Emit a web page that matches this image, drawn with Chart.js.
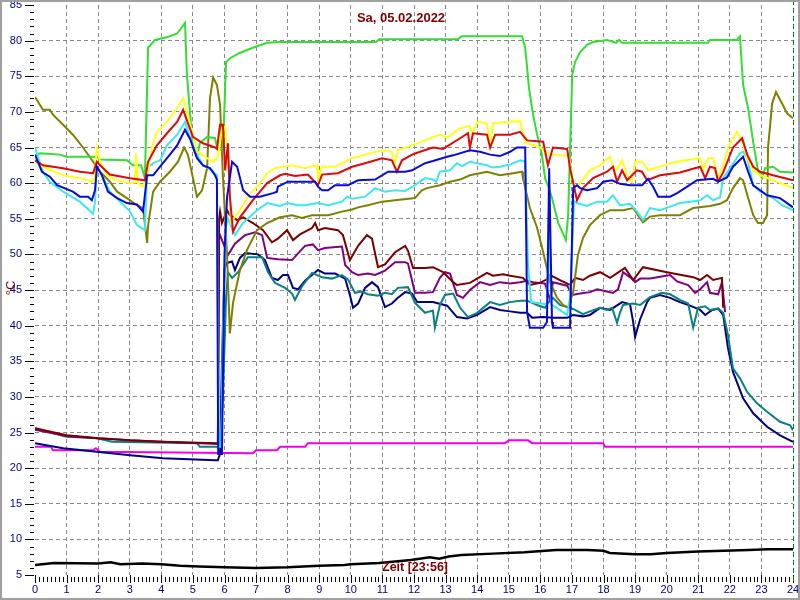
<!DOCTYPE html>
<html>
<head>
<meta charset="utf-8">
<script src="https://cdn.jsdelivr.net/npm/chart.js@4.4.0/dist/chart.umd.min.js"></script>
<style>
  html, body { margin: 0; padding: 0; background: #fff; }
</style>
</head>
<body>
<canvas id="chart" width="800" height="600"></canvas>
<script>
// Temperaturen vom Sa, 05.02.2022 - [Stunde, °C]
var titel = "Sa, 05.02.2022";
var zeitLabel = "Zeit [23:56]";
var einheit = "°C";
var yTicks = [5, 10, 15, 20, 25, 30, 35, 40, 45, 50, 55, 60, 65, 70, 75, 80, 85];
var xTicks = [0, 1, 2, 3, 4, 5, 6, 7, 8, 9, 10, 11, 12, 13, 14, 15, 16, 17, 18, 19, 20, 21, 22, 23, 24];

var gruen = [[0,63.8],[0.16,64.2],[0.79,64.0],[1.0,63.7],[1.96,63.7],[2.06,63.3],[2.91,63.2],[3.1,62.5],[3.36,62.5],[3.48,60.7],[3.58,79],[3.8,80.1],[4.2,80.5],[4.5,81],[4.75,82.5],[4.81,75.2],[5.0,65],[5.13,63.7],[5.22,65.6],[5.45,66.5],[5.7,66.3],[5.79,64.6],[5.95,64.8],[6.05,77],[6.2,77.6],[6.5,78.3],[6.9,79],[7.35,79.7],[7.76,79.8],[10.8,79.8],[10.9,80.2],[13.4,80.2],[13.5,80.6],[15.42,80.6],[15.52,79],[15.64,73.4],[15.77,69.6],[15.9,66.8],[16.05,64],[16.15,60.7],[16.24,59.7],[16.37,57.9],[16.56,54.5],[16.81,52],[16.88,55.5],[17.01,75.2],[17.1,77],[17.26,78.4],[17.48,79.4],[17.67,79.8],[18.11,80.1],[18.4,79.7],[18.49,80.1],[18.59,79.7],[21.31,79.7],[21.37,80.1],[22.23,80.1],[22.32,80.6],[22.42,73.8],[22.58,70.5],[22.74,65.8],[22.89,61.8],[23.02,60.7],[23.12,62.1],[23.37,62.3],[23.59,61.6],[24,61.5]];

var gelb = [[0,63.0],[0.25,62.3],[0.89,61.1],[1.42,60.7],[1.84,60.2],[1.9,61.5],[1.96,65],[2.06,63],[2.28,61.1],[2.6,60.4],[3.01,60],[3.17,60.1],[3.2,64.2],[3.26,60],[3.42,59.5],[3.55,61],[3.7,65],[3.86,67.2],[4.18,68.6],[4.5,70.5],[4.69,71.9],[4.81,70],[5.13,64.4],[5.45,63.5],[5.64,63],[5.79,63.7],[5.92,67.7],[6.02,67.9],[6.11,63.5],[6.2,54.5],[6.49,56.2],[6.81,58.6],[7.06,59.6],[7.35,61.4],[7.6,62.1],[8.14,62.5],[8.55,62.1],[8.93,62.5],[8.96,60.4],[9.09,62.3],[9.5,62.3],[10.04,63.5],[10.45,64],[10.99,64.6],[11.3,64.4],[11.4,62.8],[11.49,64.6],[11.94,65.3],[12.35,66],[12.82,66.8],[13.05,66.4],[13.46,67.7],[13.77,68],[13.84,66.8],[14.0,68.6],[14.31,68.4],[14.41,65.3],[14.5,68.4],[15.04,68.6],[15.36,68.7],[15.52,65.6],[15.67,65.5],[15.99,65],[16.31,64],[16.88,63.8],[17.01,61.1],[17.1,59.3],[17.26,60],[17.57,61.8],[17.89,62.5],[18.21,63.7],[18.37,61.6],[18.59,63.2],[18.75,61.1],[18.9,60.2],[19.0,63],[19.22,63],[19.41,61.8],[19.7,62.2],[20.11,62.8],[20.74,63.3],[21.06,63.5],[21.15,61.8],[21.31,63.5],[21.47,63.5],[21.63,60.7],[21.79,62.5],[21.94,65],[22.23,67.2],[22.39,66],[22.55,63.5],[22.74,61.8],[22.96,61.1],[23.37,60.4],[24,59.3]];

var rot = [[0,63.2],[0.25,62.5],[0.89,62.1],[1.42,61.6],[1.84,61.4],[1.96,63],[2.06,62.5],[2.37,61.2],[3.01,60.7],[3.48,60.4],[3.58,63],[3.86,65.3],[4.18,67],[4.5,68.6],[4.69,70.3],[4.81,68.8],[5.0,66.5],[5.32,65.6],[5.7,65],[5.76,64.8],[5.86,68.2],[5.95,68.2],[6.02,61.8],[6.11,65.6],[6.17,58.1],[6.27,53.2],[6.49,55.2],[6.9,57.6],[7.35,60],[7.76,61.1],[7.92,61.3],[8.23,61.0],[8.64,61.2],[8.96,59.7],[9.09,61.2],[9.59,61.4],[10.04,62.3],[10.45,62.8],[10.99,63.5],[11.3,63.2],[11.46,61.6],[11.62,63.2],[11.94,64],[12.19,64.4],[12.6,65],[12.92,64.8],[13.46,66.3],[13.71,67],[13.77,65],[13.87,67],[14.31,66.8],[14.41,65],[14.57,66.8],[15.04,66.8],[15.36,67.2],[15.58,66],[16.09,65.8],[16.24,62.5],[16.4,65],[16.85,64.8],[16.94,62.1],[17.16,57.6],[17.35,59.3],[17.67,60.7],[18.11,61.6],[18.3,62.3],[18.43,60.2],[18.59,61.8],[18.75,60.4],[19.06,61.8],[19.22,61.6],[19.38,60.4],[19.79,61.1],[20.42,61.5],[21.06,62.3],[21.22,60.7],[21.37,62.3],[21.53,62.1],[21.63,60.2],[21.79,61.5],[22.1,65],[22.39,66.3],[22.55,64],[22.74,62.3],[22.96,61.6],[23.37,61.1],[24,60.4]];

var hellblau = [[0,65],[0.25,61.6],[0.47,60.2],[0.89,58.8],[1.42,57.4],[1.84,55.7],[1.9,57.4],[1.96,62.3],[2.12,61.1],[2.37,58.8],[2.69,57.4],[3.01,56],[3.23,54.1],[3.48,53.4],[3.55,62.1],[3.74,62.8],[3.96,63.2],[4.18,65.3],[4.5,66.8],[4.75,68.6],[4.91,66.4],[5.13,64],[5.32,62.5],[5.6,61.8],[5.76,61.1],[5.82,23],[5.9,23],[5.95,40],[6.05,54],[6.11,55],[6.33,52.7],[6.59,54.4],[7.03,56.2],[7.35,57.2],[7.76,56.8],[8.0,57.2],[8.3,56.9],[8.55,56.9],[8.96,57.2],[9.28,56.9],[9.72,57.4],[9.88,58.1],[10.04,57.8],[10.45,58.1],[10.77,59.3],[11.08,58.8],[11.4,59],[11.72,58.9],[12.03,59.7],[12.35,60.7],[12.6,60.5],[12.7,60.2],[12.82,61.6],[13.14,61.8],[13.36,62.8],[13.52,62.4],[13.77,63],[14.31,62.5],[14.47,62.2],[14.72,62.3],[15.04,62.6],[15.36,63.2],[15.52,63],[15.61,48.5],[15.71,43.3],[16.21,43],[16.28,57],[16.34,43],[16.85,41.5],[16.94,44],[17.07,57.5],[17.16,57.2],[17.48,56.8],[17.8,57.4],[18.11,57.4],[18.3,58.3],[18.52,56.9],[18.84,57.1],[19.06,56],[19.25,54.8],[19.47,56.5],[19.79,56.2],[20.11,56.7],[20.42,57.2],[20.74,57.4],[21.06,57.6],[21.28,58.3],[21.47,57.6],[21.69,58.0],[21.79,60.7],[22.01,62.1],[22.32,64.2],[22.42,64.4],[22.55,63.5],[22.74,59.7],[22.96,58.8],[23.37,57.9],[23.65,56.9],[24,56.2]];

var blau = [[0,64],[0.22,61.6],[0.47,60.9],[0.7,59.7],[1.2,58.8],[1.42,58.1],[1.68,58.1],[1.8,57.6],[1.9,59],[1.96,62.3],[2.12,61.1],[2.31,58.8],[2.6,57.9],[2.91,57.2],[3.23,57],[3.42,56],[3.55,61.1],[3.74,61.1],[3.96,62.3],[4.27,64],[4.5,65.3],[4.75,67.5],[4.91,66.2],[5.13,63.5],[5.32,62.5],[5.54,62.1],[5.7,61.1],[5.76,60.5],[5.8,22],[5.92,22],[6.0,50],[6.08,58],[6.24,63],[6.4,62.3],[6.59,59],[6.81,58.1],[7.12,58.1],[7.54,58.6],[7.66,58.8],[7.69,59.5],[8.01,60.2],[8.55,60.2],[8.87,60.2],[8.96,59.5],[9.09,59],[9.28,59],[9.5,59.7],[9.91,59.7],[10.23,60.4],[10.77,60.5],[11.18,61.6],[11.72,61.6],[11.94,61.8],[12.35,62.8],[12.6,63.1],[13.05,63.7],[13.24,63.9],[13.77,64.6],[14.09,64.4],[14.41,64],[14.72,63.8],[15.04,64.4],[15.26,65],[15.52,65],[15.58,41.9],[15.67,39.7],[16.09,39.7],[16.21,40.5],[16.28,62.1],[16.37,40.5],[16.4,39.7],[16.94,39.7],[17.04,59.3],[17.16,59.7],[17.26,59.3],[17.48,59],[17.8,59.3],[17.99,60.2],[18.27,60.4],[18.52,59.9],[18.84,59.7],[19.22,59.7],[19.41,60.6],[19.57,59.5],[19.73,58.1],[20.11,58.1],[20.33,58.6],[20.65,59.5],[20.96,60.4],[21.47,60.6],[21.63,60.2],[21.91,60.8],[22.1,62.3],[22.42,63.7],[22.58,61.6],[22.74,59.7],[22.96,59],[23.18,58.3],[23.59,57.9],[24,56.6]];

var oliv = [[0,72.1],[0.25,70.3],[0.47,70.3],[0.57,69.6],[0.89,68.2],[1.2,66.8],[1.52,65],[1.84,63],[2.06,61.6],[2.37,60.2],[2.6,58.8],[2.91,57.9],[3.23,56.9],[3.42,56.5],[3.55,51.6],[3.58,54],[3.74,58.8],[3.96,60.2],[4.27,61.6],[4.53,63],[4.72,65],[4.84,64],[5.13,58.1],[5.29,59],[5.45,62.1],[5.54,71.9],[5.64,74.8],[5.76,73.8],[5.86,71],[5.95,60.9],[6.08,50],[6.17,38.9],[6.27,43.2],[6.49,47.8],[6.71,50.6],[7.03,53.4],[7.35,54.4],[7.76,55.2],[8.14,55.5],[8.45,55.1],[8.77,55.5],[9.28,55.5],[9.72,56],[10.04,56.3],[10.23,56.6],[10.54,56.9],[10.99,57.4],[11.4,57.6],[12.03,57.9],[12.25,59],[12.41,59.3],[12.82,59.7],[13.14,60.2],[13.46,60.5],[13.77,61.1],[14.31,61.6],[14.72,61.1],[15.14,61.4],[15.42,61.6],[15.45,60.7],[15.67,56.5],[15.9,53.7],[16.09,50.3],[16.31,46.1],[16.53,43.9],[16.72,42.9],[16.88,42.5],[17.04,44.7],[17.19,49.9],[17.35,52.3],[17.57,54.1],[17.89,55.5],[18.21,56.2],[18.62,56.2],[18.94,56.5],[19.09,55.5],[19.25,54.5],[19.47,55.3],[19.79,55.5],[20.42,55.5],[20.84,56.5],[21.37,56.8],[21.69,57.1],[21.91,57.6],[22.1,59.3],[22.32,60.7],[22.42,60.4],[22.58,57.9],[22.74,55.5],[22.89,54.4],[23.05,54.4],[23.18,55.5],[23.21,65],[23.34,71.2],[23.46,72.8],[23.65,71.2],[23.81,69.8],[24,69.1]];

var braun = [[0,25.6],[1,24.6],[2,24.2],[3,23.9],[4,23.7],[5.79,23.5],[5.83,55],[5.86,56],[5.92,54.4],[6.08,56.2],[6.17,55.5],[6.4,54.8],[6.59,55.2],[6.9,54.4],[7.22,53.4],[7.5,51.7],[7.69,52.2],[7.98,53.4],[8.17,52],[8.39,52.8],[8.77,53.7],[8.87,54.4],[8.96,53.4],[9.18,53.7],[9.59,53.4],[9.75,52.7],[9.97,49.2],[10.23,51.2],[10.51,52.7],[10.67,52.2],[10.86,48.2],[11.08,48.6],[11.4,50.3],[11.72,51.2],[11.81,50.5],[11.97,48.1],[12.35,48.1],[12.6,48.2],[12.92,47.5],[13.24,46.1],[13.36,45.7],[13.77,46],[14.31,47.4],[14.5,47],[14.82,47.2],[15.04,47],[15.45,46.7],[15.67,45.7],[15.99,46],[16.21,46.5],[16.31,47.1],[16.62,46.4],[16.94,45.7],[17.1,46.7],[17.35,46.4],[17.57,47],[17.89,47.5],[18.21,46.7],[18.68,48.1],[18.94,46.4],[19.25,48.2],[20.01,47.5],[20.84,46.8],[21.06,46.4],[21.28,47.1],[21.47,46.4],[21.75,46.7],[21.79,42.5]];

var lila = [[0,25.4],[1,24.5],[2,24.2],[3,23.9],[4,23.7],[5.79,23.4],[5.83,53],[5.92,52],[6.11,49.9],[6.33,51.5],[6.65,52.7],[6.97,53.1],[7.19,52.7],[7.35,49.5],[7.69,49.3],[8.14,49.2],[8.3,50],[8.55,51.2],[8.8,51.4],[8.96,50.6],[9.18,50.9],[9.72,51.1],[9.82,48.5],[10.04,47.5],[10.23,47.1],[10.54,47.3],[10.77,47.1],[11.08,47.7],[11.4,48.9],[11.72,48.9],[11.81,48.7],[12.03,44.6],[12.35,44.6],[12.6,44.7],[12.82,46.7],[12.98,47.5],[13.14,47.3],[13.36,44.3],[13.55,43.9],[13.77,45],[14.09,46.1],[14.41,45.7],[14.72,46.1],[15.04,45.9],[15.36,46.1],[15.58,46.3],[15.77,46.1],[16.15,45.9],[16.31,43.6],[16.4,46.1],[16.85,45.6],[17.01,44.3],[17.26,44.5],[17.57,44.7],[17.8,45.1],[18.11,44.8],[18.3,44.6],[18.46,45.1],[18.62,47.5],[18.9,46.6],[19.0,46.1],[19.16,46.6],[19.47,46.6],[20.11,47.1],[20.33,46.2],[20.68,45.7],[20.9,44.6],[21.06,45.1],[21.28,46.1],[21.37,44.6],[21.63,44.4],[21.75,46.1],[21.85,41.9]];

var petrol = [[0,25.6],[1.0,24.4],[1.96,24.2],[2.44,23.7],[5.13,23.5],[5.22,23.0],[5.86,23.0],[5.95,30],[6.05,44],[6.11,47.5],[6.24,46.7],[6.43,47.5],[6.74,49.6],[7.19,49.6],[7.38,47.5],[7.6,46],[7.92,45.3],[8.14,44.5],[8.23,43.6],[8.45,45.5],[8.77,47.4],[9.09,46.8],[9.4,46.6],[9.72,47.1],[9.91,46.5],[10.13,44.6],[10.35,44.8],[10.54,44.4],[10.86,44.2],[11.08,44.6],[11.3,44.4],[11.49,45.3],[11.81,45.4],[12.03,43.2],[12.35,41.8],[12.41,41.9],[12.6,42.1],[12.66,39.7],[12.82,42.9],[12.98,44.3],[13.24,44.5],[13.46,42.5],[13.71,41.2],[14.0,41.8],[14.41,43.3],[14.72,42.9],[15.04,43.3],[15.36,43.5],[15.58,43.5],[15.9,42.9],[16.15,42.5],[16.24,43.2],[16.4,43.9],[16.62,42.9],[16.94,42.5],[17.1,42.2],[17.35,41.6],[17.57,42],[17.89,42.5],[18.11,42.2],[18.27,42.5],[18.43,40.4],[18.52,41.8],[18.62,42.9],[18.94,43.1],[19.16,42.9],[19.47,44],[19.85,44.6],[20.11,44.4],[20.42,43.6],[20.68,43.1],[20.84,39.7],[20.99,42.5],[21.22,42.7],[21.37,42.2],[21.63,42.4],[21.79,41.8],[21.94,38.7],[22.1,34],[22.32,32.6],[22.55,30.7],[22.86,29.1],[23.18,27.9],[23.59,26.5],[23.91,26.0],[24,25.3]];

var marine = [[0,23.5],[0.89,22.8],[3.01,21.8],[4.05,21.4],[5.7,21.1],[5.79,21.1],[5.86,22],[5.92,35],[6.0,48],[6.08,48.8],[6.24,49],[6.33,47.8],[6.49,49.5],[6.65,50.2],[7.06,50],[7.28,49.2],[7.5,46.7],[7.69,46.4],[7.85,47.1],[8.01,47.1],[8.17,45.3],[8.33,45.1],[8.55,46.3],[8.77,47.1],[8.96,47.8],[9.18,47.3],[9.5,47.3],[9.82,46.6],[9.97,44.3],[10.07,42.5],[10.23,43.1],[10.45,45.3],[10.67,46.1],[10.86,45.4],[11.08,42.6],[11.3,43.1],[11.49,43.9],[11.72,44.7],[11.94,44.5],[12.1,43.3],[12.6,43.3],[13.05,42.8],[13.36,41.2],[13.68,41],[14.0,41.5],[14.41,42.6],[14.72,42.2],[15.04,42],[15.36,41.8],[15.58,41.8],[15.74,41.1],[16.09,41.2],[16.4,41.1],[16.85,41.1],[17.04,41.5],[17.35,41.3],[17.57,41.5],[17.89,42.5],[18.21,42.2],[18.59,43.3],[18.84,43],[18.94,40.5],[19.0,38.4],[19.16,40.9],[19.38,43.3],[19.47,43.9],[19.79,44.3],[20.11,43.9],[20.42,43.3],[20.74,42.8],[21.06,42.2],[21.22,41.5],[21.44,42.2],[21.63,42.4],[21.79,41.5],[21.94,36.9],[22.1,33.5],[22.42,29.8],[22.74,27.7],[23.18,25.8],[23.59,24.6],[24,23.7]];

var magenta = [[0,23.0],[0.5,23.0],[0.57,22.5],[1.84,22.5],[1.93,22.8],[2.06,22.3],[6.9,22.1],[7.0,22.5],[7.66,22.5],[7.76,23.0],[8.55,23.0],[8.64,23.5],[14.88,23.5],[15.01,23.9],[15.61,23.9],[15.74,23.5],[17.99,23.5],[18.05,23.0],[24,23.0]];

var schwarz = [[0,6.4],[0.6,6.7],[2,6.6],[2.4,6.8],[2.7,6.5],[3.4,6.6],[4,6.5],[4.6,6.3],[5.2,6.2],[6,6.1],[7,6.0],[8,6.1],[9,6.3],[9.8,6.4],[10,6.5],[10.9,6.7],[11.9,7.1],[12.5,7.5],[12.8,7.3],[13.1,7.6],[13.5,7.8],[14.5,8.0],[15.5,8.2],[16.5,8.5],[17.5,8.5],[18,8.4],[18.2,8.1],[19,7.9],[19.5,7.9],[20,8.1],[21,8.3],[21.8,8.4],[22.6,8.5],[23.2,8.6],[24,8.6]];

function linie(daten, farbe, breite) {
    return {
        data: daten,
        borderColor: farbe,
        borderWidth: breite || 2,
        pointRadius: 0,
        tension: 0,
        fill: false
    };
}

// Rahmen, Teilstriche und Beschriftungen
var beschriftung = {
    id: 'beschriftung',
    beforeDraw: function (chart) {
        var ctx = chart.ctx;
        ctx.save();
        ctx.fillStyle = '#ffffff';
        ctx.fillRect(0, 0, chart.width, chart.height);
        ctx.restore();
    },
    afterDraw: function (chart) {
        var ctx = chart.ctx,
            area = chart.chartArea,
            xs = chart.scales.x,
            ys = chart.scales.y;
        ctx.save();
        ctx.setLineDash([]);
        ctx.fillStyle = '#000000';

        // Teilstriche Y (alle 1 °C, lang alle 5 °C)
        for (var v = 5; v <= 85; v++) {
            var y = Math.round(ys.getPixelForValue(v));
            var len = (v % 5 === 0) ? 10 : 5;
            ctx.fillRect(Math.round(area.left) - len, y, len - 1, 1);
        }
        // Teilstriche X (8 pro Stunde)
        for (var i = 0; i <= 24 * 8; i++) {
            var x = Math.round(xs.getPixelForValue(i / 8));
            if (i % 8 === 0) {
                ctx.fillRect(x, Math.round(area.bottom), 1, 8);
            } else {
                ctx.fillRect(x, Math.round(area.bottom) + 2, 1, 5);
            }
        }

        // aktuelle Zeit
        var xe = Math.round(xs.getPixelForValue(24)) + 0.5;
        ctx.strokeStyle = '#008000';
        ctx.lineWidth = 1;
        ctx.setLineDash([5, 3]);
        ctx.beginPath();
        ctx.moveTo(xe, 0);
        ctx.lineTo(xe, area.bottom + 8);
        ctx.stroke();
        ctx.setLineDash([]);

        // Texte
        ctx.fillStyle = '#800000';
        ctx.textAlign = 'center';
        ctx.textBaseline = 'middle';
        ctx.font = 'bold 13px "Liberation Sans", Arial, sans-serif';
        ctx.fillText(titel, 401, 18);
        ctx.font = 'bold 12.5px "Liberation Sans", Arial, sans-serif';
        ctx.fillText(zeitLabel, 415, 568);

        ctx.save();
        ctx.translate(11, 288);
        ctx.rotate(-Math.PI / 2);
        ctx.font = '13px "Liberation Sans", Arial, sans-serif';
        ctx.fillText(einheit, 0, 0);
        ctx.restore();

        // Rahmen
        ctx.strokeStyle = '#a0a0a0';
        ctx.lineWidth = 2;
        ctx.strokeRect(1, 1, chart.width - 2, chart.height - 2);
        ctx.restore();
    }
};

function gitterFarbe(grenzen) {
    return function (c) {
        if (c.tick && grenzen.indexOf(c.tick.value) >= 0) return 'rgba(0,0,0,0)';
        return '#888888';
    };
}

var canvas = document.getElementById('chart');
var chart = new Chart(canvas.getContext('2d'), {
    type: 'line',
    data: {
        datasets: [
            linie(blau, '#0a0ad8'),
            linie(rot, '#dc0a0a'),
            linie(gelb, '#ffff1a'),
            linie(hellblau, '#3ce8ee'),
            linie(gruen, '#33dd33'),
            linie(oliv, '#808000'),
            linie(braun, '#7a0000'),
            linie(lila, '#800080'),
            linie(petrol, '#0a8080'),
            linie(marine, '#000080'),
            linie(magenta, '#ee00ee'),
            linie(schwarz, '#000000', 2.5)
        ]
    },
    options: {
        responsive: false,
        animation: false,
        events: [],
        layout: { padding: { left: 0, right: 7, top: 5, bottom: 0 } },
        plugins: {
            legend: { display: false },
            tooltip: { enabled: false },
            title: { display: false }
        },
        scales: {
            x: {
                type: 'linear',
                min: 0,
                max: 24,
                afterBuildTicks: function (s) {
                    s.ticks = xTicks.map(function (v) { return { value: v }; });
                },
                afterFit: function (s) {
                    s.height = 25;
                    s.paddingLeft = 0;
                    s.paddingRight = 0;
                },
                border: { display: false, dash: [4, 3] },
                grid: { drawTicks: false, color: gitterFarbe([0, 24]), lineWidth: 1 },
                ticks: {
                    autoSkip: false,
                    maxRotation: 0,
                    padding: 8,
                    color: '#000080',
                    font: { family: '"Liberation Sans", Arial, sans-serif', size: 11 }
                }
            },
            y: {
                type: 'linear',
                min: 5,
                max: 85,
                afterBuildTicks: function (s) {
                    s.ticks = yTicks.map(function (v) { return { value: v }; });
                },
                afterFit: function (s) {
                    s.width = 35;
                    s.paddingTop = 0;
                    s.paddingBottom = 0;
                },
                border: { display: false, dash: [4, 3] },
                grid: { drawTicks: false, color: gitterFarbe([5, 85]), lineWidth: 1 },
                ticks: {
                    padding: 13,
                    color: '#000080',
                    font: { family: '"Liberation Sans", Arial, sans-serif', size: 11 }
                }
            }
        }
    },
    plugins: [beschriftung]
});
</script>
</body>
</html>
